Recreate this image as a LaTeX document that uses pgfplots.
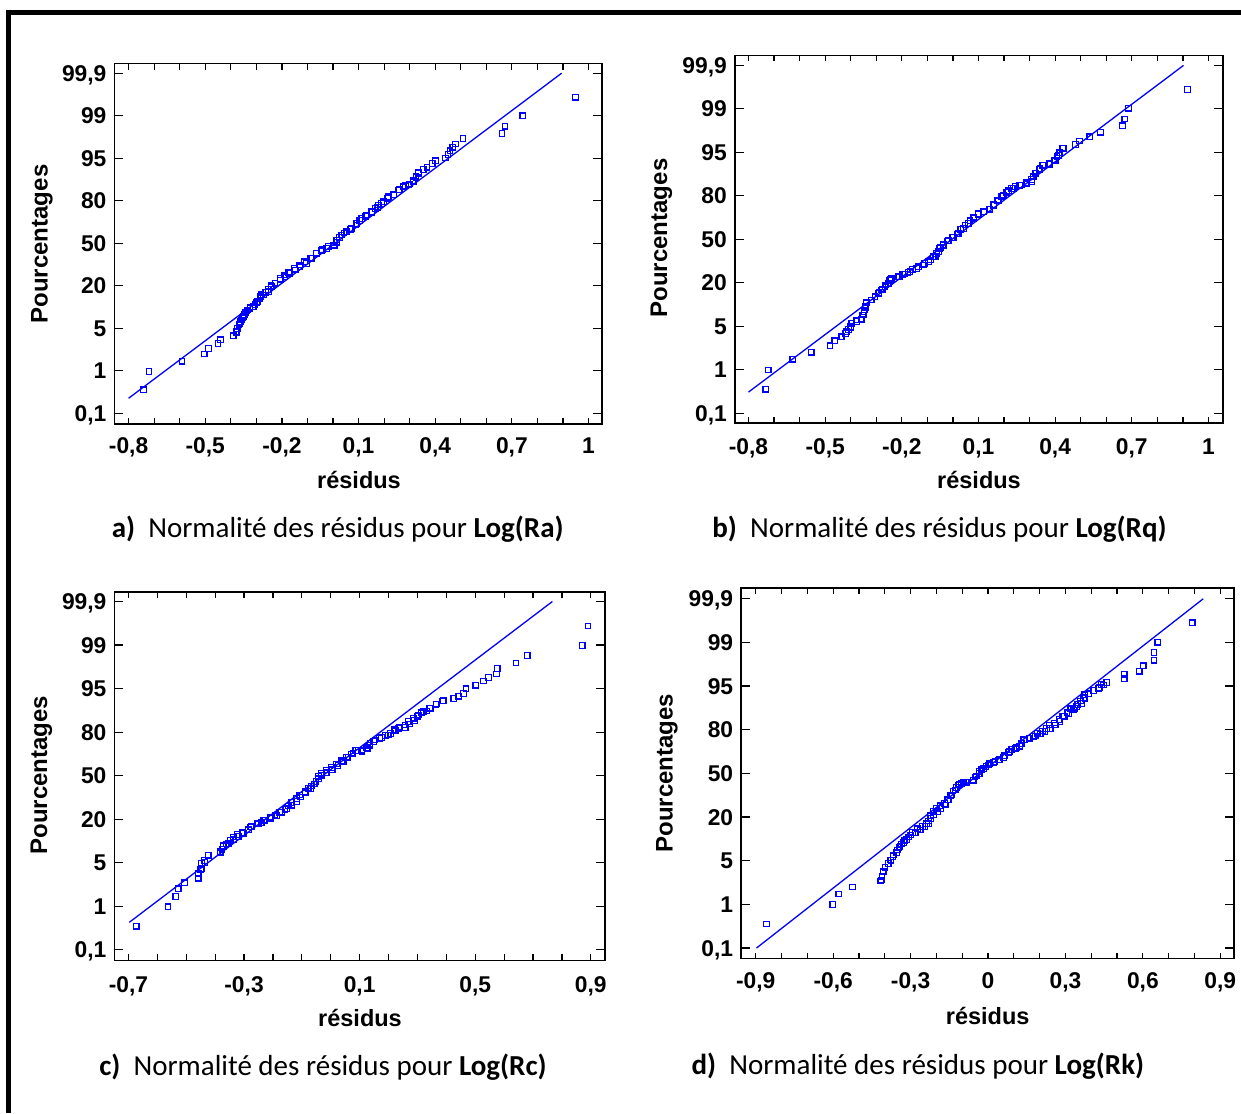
\documentclass[border=0pt]{standalone}
\usepackage{pgfplots}
\pgfplotsset{compat=1.18}
\usepackage{fontspec}
\setmainfont{Liberation Sans}
\newfontfamily\arialf{Liberation Sans}
\newfontfamily\calib{Carlito}
\definecolor{ptblue}{RGB}{0,0,255}

\pgfplotsset{
  resplot/.style={
    scale only axis,
    clip=false,
    axis line style={line width=0.8pt, black},
    tick align=inside, tick pos=both,
    major tick length=4.5pt, minor tick length=3pt,
    xtick style={/pgfplots/major tick length=3pt, line width=0.6pt, black},
    ytick style={line width=0.6pt, black},
    minor tick style={line width=0.6pt, black},
    ytick={0,1,2,3,4,5,6,7,8},
    yticklabels={{0,1},1,5,20,50,80,95,99,{99,9}},
    tick label style={font=\arialf\bfseries\fontsize{11.4}{13}\selectfont},
    yticklabel style={anchor=base east, inner sep=0pt, xshift=-3.75pt, yshift=-4pt},
  },
  xlab/.style={xticklabel style={anchor=base, inner sep=0pt, yshift=-#1}},
  ptmark/.style={only marks, mark=square, mark size=1.4pt, color=ptblue, mark options={line width=0.6pt}},
  fitline/.style={color=ptblue, line width=0.65pt, no marks},
}

\begin{document}
\begin{tikzpicture}
\useasboundingbox (0pt,0pt) rectangle (620.5pt,-556.5pt);
% frame
\draw[line width=2.5pt] (3pt,-6.25pt) -- (620.5pt,-6.25pt);
\draw[line width=2.5pt] (4.25pt,-5pt) -- (4.25pt,-556.5pt);

% ---------- a ----------
\begin{axis}[resplot, xlab=14.8pt, at={(57.15pt,-212pt)}, anchor=south west,
  width=243.75pt, height=180.2pt,
  xmin=-0.856, xmax=1.052, ymin=-0.252, ymax=8.227,
  xtick={-0.8,-0.5,-0.2,0.1,0.4,0.7,1.0},
  xticklabels={{-0,8},{-0,5},{-0,2},{0,1},{0,4},{0,7},1},
  minor xtick={-0.7,-0.6,-0.4,-0.3,-0.1,0,0.2,0.3,0.5,0.6,0.8,0.9}]
\addplot[fitline] coordinates {(-0.8,0.353) (0.8945,8)};
\addplot[ptmark] coordinates {
(-0.741,0.555) (-0.720,0.983) (-0.591,1.227) (-0.504,1.395) (-0.487,1.521) (-0.450,1.639) (-0.441,1.731) (-0.391,1.824) (-0.378,1.908) (-0.374,1.992) (-0.368,2.076) (-0.362,2.160) (-0.354,2.244) (-0.347,2.328) (-0.337,2.412) (-0.325,2.496) (-0.305,2.563) (-0.294,2.622) (-0.286,2.706) (-0.282,2.790) (-0.263,2.849) (-0.254,2.916) (-0.243,3.000) (-0.227,3.067) (-0.207,3.168) (-0.192,3.252) (-0.173,3.319) (-0.150,3.403) (-0.130,3.487) (-0.111,3.563) (-0.088,3.655) (-0.065,3.773) (-0.042,3.857) (-0.019,3.924) (0.005,3.941) (0.013,4.025) (0.025,4.134) (0.043,4.244) (0.067,4.328) (0.090,4.429) (0.105,4.538) (0.128,4.639) (0.152,4.731) (0.175,4.849) (0.190,4.933) (0.214,5.059) (0.237,5.143) (0.260,5.269) (0.283,5.353) (0.299,5.395) (0.314,5.479) (0.325,5.580) (0.334,5.672) (0.353,5.739) (0.368,5.790) (0.388,5.874) (0.401,5.941) (0.441,6.008) (0.450,6.092) (0.458,6.176) (0.469,6.261) (0.480,6.336) (0.509,6.462) (0.661,6.580) (0.673,6.756) (0.743,7.000) (0.949,7.437)};
\addplot[ptmark] coordinates {
(-0.379,1.919) (-0.374,1.997) (-0.366,2.099) (-0.357,2.193) (-0.351,2.272) (-0.342,2.366) (-0.334,2.428) (-0.325,2.468) (-0.312,2.507) (-0.298,2.601) (-0.285,2.742) (-0.272,2.781) (-0.253,2.860) (-0.240,2.977) (-0.227,3.056) (-0.207,3.134) (-0.188,3.213) (-0.168,3.291) (-0.148,3.370) (-0.129,3.448) (-0.103,3.527) (-0.083,3.644) (-0.064,3.762) (-0.044,3.825) (-0.024,3.879) (0.002,3.958) (0.015,4.075) (0.034,4.193) (0.054,4.272) (0.073,4.350) (0.093,4.468) (0.113,4.585) (0.132,4.664) (0.152,4.742) (0.165,4.821) (0.178,4.899) (0.197,4.977) (0.217,5.095) (0.236,5.134) (0.256,5.252) (0.276,5.330) (0.295,5.370) (0.315,5.448) (0.325,5.550) (0.334,5.644)};
\end{axis}

% ---------- b ----------
\begin{axis}[resplot, xlab=15.5pt, at={(367.35pt,-211.6pt)}, anchor=south west,
  width=244.15pt, height=183.9pt,
  xmin=-0.854, xmax=1.057, ymin=-0.230, ymax=8.230,
  xtick={-0.8,-0.5,-0.2,0.1,0.4,0.7,1.0},
  xticklabels={{-0,8},{-0,5},{-0,2},{0,1},{0,4},{0,7},1},
  minor xtick={-0.7,-0.6,-0.4,-0.3,-0.1,0,0.2,0.3,0.5,0.6,0.8,0.9}]
\addplot[fitline] coordinates {(-0.8,0.485) (0.9025,8)};
\addplot[ptmark] coordinates {
(-0.732,0.550) (-0.723,0.994) (-0.627,1.240) (-0.555,1.405) (-0.481,1.552) (-0.463,1.659) (-0.438,1.758) (-0.419,1.832) (-0.408,1.922) (-0.401,1.996) (-0.398,2.070) (-0.376,2.111) (-0.359,2.168) (-0.354,2.259) (-0.348,2.341) (-0.343,2.439) (-0.340,2.538) (-0.320,2.604) (-0.305,2.686) (-0.289,2.768) (-0.277,2.850) (-0.263,2.949) (-0.247,3.055) (-0.241,3.097) (-0.212,3.138) (-0.196,3.195) (-0.176,3.244) (-0.158,3.302) (-0.134,3.368) (-0.111,3.441) (-0.088,3.524) (-0.069,3.606) (-0.057,3.713) (-0.049,3.819) (-0.037,3.877) (-0.021,3.959) (-0.003,4.041) (0.016,4.123) (0.031,4.222) (0.047,4.329) (0.067,4.427) (0.082,4.509) (0.098,4.591) (0.121,4.632) (0.144,4.698) (0.160,4.805) (0.175,4.887) (0.191,4.986) (0.211,5.084) (0.229,5.166) (0.245,5.216) (0.268,5.248) (0.288,5.273) (0.307,5.331) (0.314,5.437) (0.325,5.520) (0.338,5.602) (0.350,5.700) (0.376,5.741) (0.396,5.807) (0.407,5.906) (0.418,5.988) (0.430,6.094) (0.480,6.177) (0.496,6.259) (0.536,6.357) (0.578,6.464) (0.663,6.612) (0.673,6.768) (0.687,7.014) (0.918,7.450)};
\addplot[ptmark] coordinates {
(-0.481,1.545) (-0.462,1.667) (-0.435,1.759) (-0.416,1.874) (-0.400,1.974) (-0.396,2.066) (-0.377,2.142) (-0.357,2.158) (-0.351,2.257) (-0.347,2.372) (-0.344,2.464) (-0.338,2.541) (-0.318,2.602) (-0.305,2.679) (-0.292,2.755) (-0.279,2.832) (-0.266,2.909) (-0.253,2.985) (-0.244,3.077) (-0.210,3.138) (-0.188,3.200) (-0.168,3.253) (-0.142,3.330) (-0.116,3.407) (-0.096,3.483) (-0.077,3.598) (-0.064,3.675) (-0.053,3.790) (-0.038,3.866) (-0.018,3.966) (0.001,4.043) (0.021,4.135) (0.041,4.250) (0.060,4.364) (0.080,4.479) (0.099,4.571) (0.119,4.633) (0.145,4.686) (0.158,4.786) (0.178,4.901) (0.197,5.016) (0.217,5.115) (0.236,5.169) (0.262,5.246) (0.289,5.299) (0.308,5.376) (0.321,5.514) (0.341,5.629) (0.354,5.706) (0.380,5.729) (0.400,5.820) (0.413,5.935) (0.432,6.089)};
\end{axis}

% ---------- c ----------
\begin{axis}[resplot, xlab=15.8pt, at={(57.15pt,-480.2pt)}, anchor=south west,
  width=245.35pt, height=184.35pt,
  xmin=-0.749, xmax=0.949, ymin=-0.243, ymax=8.225,
  xtick={-0.7,-0.3,0.1,0.5,0.9},
  xticklabels={{-0,7},{-0,3},{0,1},{0,5},{0,9}},
  minor xtick={-0.6,-0.5,-0.4,-0.2,-0.1,0,0.2,0.3,0.4,0.6,0.7,0.8}]
\addplot[fitline] coordinates {(-0.697,0.632) (0.767,8)};
\addplot[ptmark] coordinates {
(-0.673,0.543) (-0.563,0.989) (-0.536,1.224) (-0.528,1.402) (-0.506,1.540) (-0.459,1.645) (-0.459,1.759) (-0.450,1.840) (-0.447,1.985) (-0.437,2.050) (-0.424,2.164) (-0.382,2.229) (-0.376,2.310) (-0.372,2.391) (-0.362,2.431) (-0.348,2.512) (-0.337,2.593) (-0.324,2.650) (-0.307,2.699) (-0.285,2.755) (-0.277,2.820) (-0.255,2.893) (-0.241,2.917) (-0.228,2.974) (-0.207,3.023) (-0.187,3.079) (-0.170,3.160) (-0.153,3.241) (-0.135,3.323) (-0.118,3.404) (-0.105,3.509) (-0.088,3.606) (-0.070,3.704) (-0.057,3.809) (-0.043,3.930) (-0.033,4.011) (-0.016,4.068) (0.005,4.133) (0.025,4.238) (0.043,4.319) (0.060,4.417) (0.077,4.514) (0.094,4.579) (0.108,4.562) (0.128,4.619) (0.135,4.700) (0.149,4.781) (0.169,4.862) (0.190,4.927) (0.207,4.968) (0.224,5.032) (0.235,5.081) (0.258,5.105) (0.272,5.186) (0.290,5.267) (0.299,5.365) (0.313,5.446) (0.331,5.486) (0.344,5.551) (0.364,5.632) (0.388,5.713) (0.426,5.770) (0.443,5.827) (0.459,5.891) (0.468,5.997) (0.502,6.078) (0.529,6.175) (0.546,6.256) (0.573,6.337) (0.576,6.459) (0.641,6.588) (0.680,6.758) (0.870,6.994) (0.890,7.439)};
\addplot[ptmark] coordinates {
(-0.447,1.872) (-0.435,2.002) (-0.424,2.178) (-0.383,2.255) (-0.372,2.370) (-0.355,2.446) (-0.337,2.538) (-0.320,2.599) (-0.303,2.676) (-0.285,2.752) (-0.274,2.829) (-0.251,2.906) (-0.233,2.982) (-0.210,3.044) (-0.193,3.097) (-0.176,3.151) (-0.158,3.227) (-0.147,3.304) (-0.135,3.380) (-0.118,3.480) (-0.107,3.556) (-0.089,3.633) (-0.078,3.710) (-0.066,3.763) (-0.051,3.863) (-0.043,3.978) (-0.032,4.054) (-0.014,4.131) (0.003,4.192) (0.020,4.269) (0.038,4.345) (0.055,4.422) (0.072,4.498) (0.087,4.575) (0.107,4.590) (0.124,4.651) (0.136,4.743) (0.153,4.820) (0.176,4.881) (0.199,4.935) (0.222,5.065) (0.239,5.111) (0.257,5.164) (0.268,5.241) (0.286,5.318) (0.303,5.394) (0.320,5.471) (0.343,5.547) (0.366,5.647) (0.389,5.723)};
\end{axis}

% ---------- d ----------
\begin{axis}[resplot, xlab=15pt, at={(370.5pt,-479.3pt)}, anchor=south west,
  width=246.35pt, height=185.2pt,
  xmin=-0.957, xmax=0.952, ymin=-0.242, ymax=8.242,
  xtick={-0.9,-0.6,-0.3,0,0.3,0.6,0.9},
  xticklabels={{-0,9},{-0,6},{-0,3},0,{0,3},{0,6},{0,9}},
  minor xtick={-0.8,-0.7,-0.5,-0.4,-0.2,-0.1,0.1,0.2,0.4,0.5,0.7,0.8}]
\addplot[fitline] coordinates {(-0.897,0) (0.834,8)};
\addplot[ptmark] coordinates {
(-0.859,0.549) (-0.601,0.994) (-0.578,1.236) (-0.525,1.398) (-0.417,1.535) (-0.411,1.640) (-0.407,1.745) (-0.399,1.842) (-0.387,1.939) (-0.376,2.004) (-0.368,2.101) (-0.353,2.182) (-0.345,2.303) (-0.335,2.384) (-0.322,2.465) (-0.307,2.545) (-0.292,2.651) (-0.273,2.731) (-0.254,2.788) (-0.238,2.844) (-0.231,2.909) (-0.223,3.030) (-0.212,3.135) (-0.200,3.192) (-0.185,3.257) (-0.169,3.313) (-0.157,3.394) (-0.146,3.491) (-0.136,3.596) (-0.123,3.677) (-0.111,3.758) (-0.096,3.798) (-0.085,3.798) (-0.057,3.838) (-0.050,3.919) (-0.034,4.000) (-0.024,4.081) (-0.008,4.162) (0.007,4.218) (0.027,4.267) (0.045,4.323) (0.064,4.404) (0.083,4.501) (0.106,4.566) (0.122,4.622) (0.129,4.687) (0.137,4.768) (0.160,4.808) (0.175,4.848) (0.191,4.913) (0.211,4.970) (0.226,5.026) (0.237,5.107) (0.257,5.156) (0.275,5.236) (0.290,5.317) (0.306,5.398) (0.321,5.479) (0.336,5.495) (0.348,5.576) (0.359,5.657) (0.370,5.737) (0.375,5.802) (0.390,5.834) (0.410,5.899) (0.431,5.964) (0.440,6.036) (0.459,6.085) (0.528,6.166) (0.528,6.271) (0.586,6.343) (0.601,6.465) (0.643,6.594) (0.643,6.772) (0.658,7.006) (0.791,7.451)};
\addplot[ptmark] coordinates {
(-0.412,1.558) (-0.405,1.749) (-0.399,1.848) (-0.386,1.940) (-0.377,2.016) (-0.366,2.131) (-0.351,2.245) (-0.341,2.322) (-0.328,2.413) (-0.315,2.490) (-0.299,2.589) (-0.282,2.642) (-0.263,2.703) (-0.244,2.780) (-0.231,2.856) (-0.222,2.971) (-0.211,3.047) (-0.196,3.123) (-0.183,3.200) (-0.166,3.276) (-0.153,3.391) (-0.140,3.505) (-0.127,3.620) (-0.115,3.734) (-0.102,3.772) (-0.082,3.788) (-0.056,3.849) (-0.046,3.940) (-0.033,4.040) (-0.018,4.116) (0.002,4.192) (0.021,4.246) (0.040,4.307) (0.060,4.368) (0.079,4.475) (0.092,4.551) (0.111,4.597) (0.131,4.689) (0.140,4.780) (0.163,4.803) (0.183,4.857) (0.202,4.903) (0.221,4.956) (0.241,5.032) (0.260,5.109) (0.279,5.185) (0.295,5.300) (0.312,5.376) (0.331,5.453) (0.344,5.529) (0.363,5.605) (0.376,5.720) (0.389,5.819) (0.409,5.895) (0.428,5.949) (0.447,6.025) (0.460,6.079)};
\end{axis}

% axis titles
\begin{scope}[font=\arialf\bfseries\fontsize{12}{14}\selectfont]
\node[rotate=90] at (21pt,-122pt) {Pourcentages};
\node[rotate=90] at (330.75pt,-119pt) {Pourcentages};
\node[rotate=90] at (20.75pt,-387.5pt) {Pourcentages};
\node[rotate=90] at (333.5pt,-386.5pt) {Pourcentages};
\end{scope}
\begin{scope}[font=\arialf\bfseries\fontsize{11.75}{14}\selectfont]
\node at (179.5pt,-240pt) {résidus};
\node at (489.5pt,-240pt) {résidus};
\node at (180pt,-509pt) {résidus};
\node at (493.85pt,-508pt) {résidus};
\end{scope}
% captions
\begin{scope}[font=\calib\fontsize{14.5}{17}\selectfont]
\node[anchor=base] at (168.85pt,-268.75pt) {\textbf{a)}\ \ Normalité des résidus pour \textbf{Log(Ra)}};
\node[anchor=base] at (469.75pt,-268.75pt) {\textbf{b)}\ \ Normalité des résidus pour \textbf{Log(Rq)}};
\node[anchor=base] at (161.5pt,-537.5pt) {\textbf{c)}\ \ Normalité des résidus pour \textbf{Log(Rc)}};
\node[anchor=base] at (458.95pt,-537.25pt) {\textbf{d)}\ \ Normalité des résidus pour \textbf{Log(Rk)}};
\end{scope}
\end{tikzpicture}
\end{document}
